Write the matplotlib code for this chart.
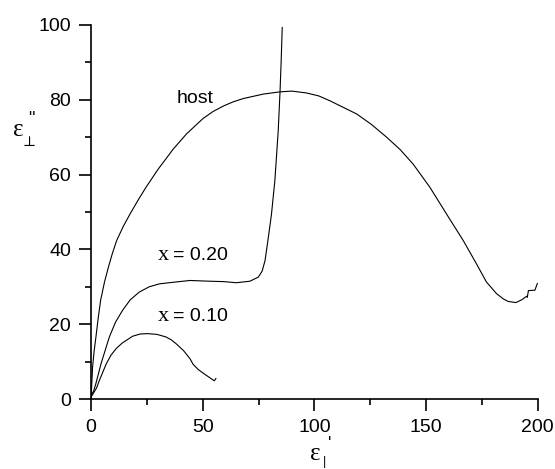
import matplotlib
matplotlib.use("Agg")
import matplotlib.pyplot as plt
from matplotlib.ticker import MultipleLocator

plt.rcParams["font.family"] = ["Liberation Sans", "DejaVu Sans"]

# host curve (eps' vs eps'')
host_x = [0, 0.2, 0.7, 1.4, 2.2, 3.2, 4.3, 6.0, 7.8, 9.6, 11.5, 14.4, 17.5, 21.0,
          24.5, 30, 36.8, 42.8, 50.2, 54.5, 59.2, 63.5, 68.1, 77.1, 84.6, 90,
          96.5, 102, 107, 111.4, 118.9, 125.5, 132.3, 138.5, 144.2, 151.7, 159.1,
          166.6, 172.5, 177, 181.5, 184.5, 186.7, 190.2, 193, 195, 195.3, 195.8,
          198.7, 199.8]
host_y = [0, 2.4, 8.6, 12.9, 16.6, 21.6, 26.4, 31.2, 35.3, 39.0, 42.4, 46.1, 49.5,
          53.1, 56.5, 61.4, 66.8, 70.9, 75.0, 76.8, 78.3, 79.4, 80.3, 81.5, 82.1,
          82.3, 81.8, 81.0, 79.7, 78.4, 76.2, 73.4, 70.0, 66.6, 62.8, 56.6, 49.5,
          42.4, 36.2, 31.3, 28.2, 26.8, 26.1, 25.8, 26.6, 27.5, 27.2, 29.0, 29.1,
          30.9]

# x = 0.20
x20_x = [0, 0.4, 1.2, 2.2, 4.5, 8.2, 11.0, 14.1, 17.5, 21.6, 26.0, 30.6, 38, 44.3,
         53.2, 59.2, 65.1, 71.1, 74.9, 76.6, 77.9, 79.4, 80.8, 82.3, 83.8, 84.6,
         85.1, 85.6]
x20_y = [0, 1.4, 2.2, 4.2, 9.5, 16.6, 20.6, 23.7, 26.5, 28.6, 30.0, 30.8, 31.3, 31.7,
         31.5, 31.4, 31.1, 31.5, 32.6, 34.2, 37.0, 43.3, 49.5, 58.4, 71.7, 82.0,
         90.0, 99.3]

# x = 0.10
x10_x = [0, 0.7, 1.4, 2.5, 3.6, 5.0, 6.8, 9.0, 11.4, 14.0, 18.6, 22.0, 25.3, 29.5,
         33.6, 36.0, 38.3, 41.5, 44.3, 45.7, 48.0, 51.5, 55.2, 55.9]
x10_y = [0.6, 1.2, 1.9, 3.0, 4.8, 6.8, 9.4, 11.8, 13.6, 15.0, 16.8, 17.4, 17.5, 17.3,
         16.6, 15.8, 14.7, 12.9, 10.8, 9.3, 7.9, 6.4, 4.9, 5.5]

fig = plt.figure(figsize=(5.55, 4.69), dpi=100)
ax = fig.add_axes([0.164, 0.149, 0.805, 0.798])

for xs, ys in ((host_x, host_y), (x20_x, x20_y), (x10_x, x10_y)):
    ax.plot(xs, ys, color="black", lw=0.8)

ax.set_xlim(0, 200)
ax.set_ylim(0, 100)
ax.spines["top"].set_visible(False)
ax.spines["right"].set_visible(False)
for s in ("left", "bottom"):
    ax.spines[s].set_linewidth(1.2)
ax.xaxis.set_major_locator(MultipleLocator(50))
ax.xaxis.set_minor_locator(MultipleLocator(25))
ax.yaxis.set_major_locator(MultipleLocator(20))
ax.yaxis.set_minor_locator(MultipleLocator(10))
ax.tick_params(which="major", direction="out", length=8.5, width=1.2,
               labelsize=14, pad=6)
ax.tick_params(which="minor", direction="out", length=4.5, width=1.2)

ax.text(38.5, 80.4, "host", fontsize=14, va="center", ha="left")
for y, lab in ((38.4, "0.20"), (22.0, "0.10")):
    ax.text(30, y, "x", fontsize=16, va="center", ha="left",
            family="Liberation Serif")
    ax.text(36.8, y, "= " + lab, fontsize=14, va="center", ha="left")

# axis labels built from pieces: epsilon, subscript, primes
serif = ["Liberation Serif", "DejaVu Serif"]
fig.text(0.032, 0.722, "ε", fontsize=18, ha="center", va="center", family=serif)
fig.text(0.052, 0.696, "⊥", fontsize=10, ha="center", va="center", family=serif)
fig.text(0.056, 0.745, '"', fontsize=13, ha="center", va="center")
fig.text(0.568, 0.032, "ε", fontsize=18, ha="center", va="center", family=serif)
fig.text(0.585, 0.014, "|", fontsize=9, ha="center", va="center")
fig.text(0.594, 0.052, "'", fontsize=13, ha="center", va="center")

fig.savefig("out.png", dpi=100)
